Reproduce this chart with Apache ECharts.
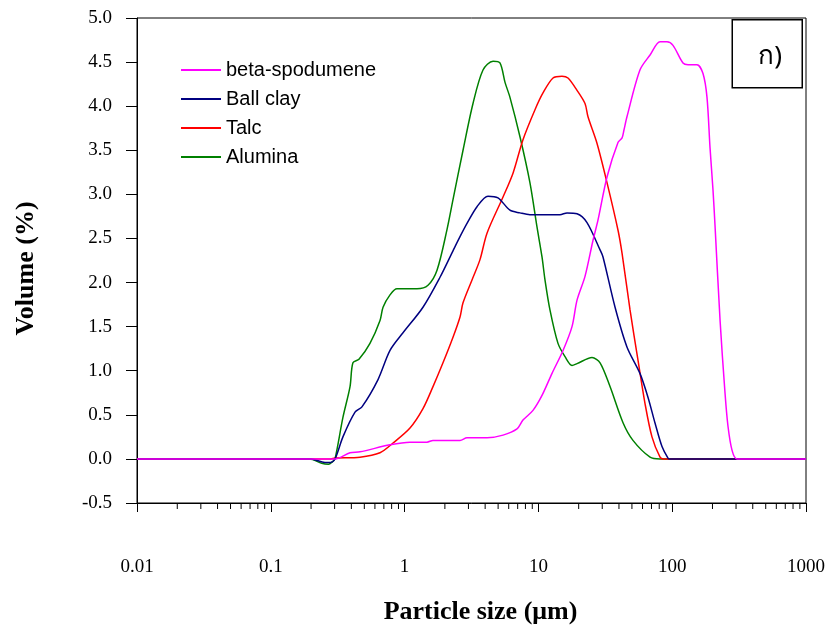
<!DOCTYPE html>
<html>
<head>
<meta charset="utf-8">
<script src="https://cdn.jsdelivr.net/npm/echarts@6/dist/echarts.min.js"></script>
<style>html,body{margin:0;padding:0;background:#fff}#chart{width:832px;height:627px}</style>
</head>
<body>
<div id="chart"></div>
<script>
// Particle sizes (µm) and volume (%)
const spodumeneX = [0.01, 0.28, 0.302, 0.391, 0.464, 0.778, 1.097, 1.47, 1.63, 2.595, 2.927, 4.13, 5.44, 6.92, 7.67, 9.11, 10.64, 12.64, 15.28, 17.83, 19.44, 22.3, 25.6, 27.9, 32.6, 39.4, 42.2, 43.6, 45.9, 57.4, 68.3, 81.1, 91.4, 101.4, 120.4, 131.3, 153.2, 169.9, 182, 191.7, 201.8, 208.9, 227.7, 248.1, 261.2, 279.9, 305, 1000];
const spodumeneY = [0, 0, 0, 0.07, 0.08, 0.16, 0.19, 0.19, 0.21, 0.21, 0.24, 0.24, 0.27, 0.34, 0.44, 0.55, 0.72, 0.97, 1.23, 1.50, 1.80, 2.07, 2.48, 2.71, 3.20, 3.59, 3.64, 3.73, 3.88, 4.41, 4.58, 4.73, 4.73, 4.69, 4.49, 4.47, 4.47, 4.37, 4.10, 3.53, 3.05, 2.65, 1.58, 0.75, 0.37, 0.10, 0, 0];

const ballClayX = [0.01, 0.2, 0.254, 0.28, 0.302, 0.346, 0.426, 0.48, 0.633, 0.778, 0.973, 1.372, 1.839, 2.3, 2.595, 2.927, 3.476, 4.2, 4.99, 6.13, 7.29, 8.65, 14.5, 16.36, 19.44, 23.08, 28.9, 30.4, 37.4, 45.9, 57.4, 65.9, 74.3, 83.9, 93.0, 96, 1000];
const ballClayY = [0, 0, -0.04, -0.04, 0, 0.25, 0.53, 0.59, 0.90, 1.23, 1.43, 1.72, 2.06, 2.36, 2.52, 2.67, 2.86, 2.98, 2.96, 2.82, 2.79, 2.77, 2.77, 2.79, 2.78, 2.68, 2.37, 2.29, 1.72, 1.27, 0.97, 0.70, 0.41, 0.14, 0.01, 0, 0];

const talcX = [0.01, 0.28, 0.302, 0.464, 0.655, 0.819, 1.097, 1.372, 1.63, 1.936, 2.3, 2.595, 2.733, 3.19, 3.66, 4.13, 5.44, 6.46, 7.67, 9.43, 10.82, 12.86, 15.01, 16.64, 19.44, 22.3, 23.48, 27.4, 32.6, 39.4, 42.2, 48.4, 55.5, 62.6, 70.6, 81.1, 86, 1000];
const talcY = [0, 0, 0.01, 0.02, 0.07, 0.18, 0.35, 0.57, 0.82, 1.09, 1.38, 1.61, 1.77, 2.03, 2.26, 2.56, 2.97, 3.24, 3.62, 3.96, 4.15, 4.32, 4.34, 4.32, 4.18, 4.03, 3.88, 3.58, 3.13, 2.59, 2.33, 1.69, 1.12, 0.63, 0.25, 0.02, 0, 0];

const aluminaX = [0.01, 0.195, 0.24, 0.27, 0.29, 0.302, 0.346, 0.391, 0.411, 0.456, 0.551, 0.655, 0.69, 0.778, 0.877, 1.238, 1.496, 1.747, 2.074, 2.3, 2.733, 3.245, 3.854, 4.58, 5.16, 5.63, 6.13, 7.29, 8.65, 9.76, 10.64, 11.2, 12.2, 14.01, 15.81, 17.83, 19.44, 25.16, 28.9, 34.3, 42.9, 50.9, 68.3, 81.1, 1000];
const aluminaY = [0, 0, -0.05, -0.06, -0.03, 0, 0.47, 0.82, 1.09, 1.13, 1.31, 1.57, 1.72, 1.86, 1.93, 1.93, 1.97, 2.14, 2.60, 2.94, 3.50, 4.03, 4.41, 4.51, 4.49, 4.27, 4.10, 3.65, 3.13, 2.63, 2.29, 2.03, 1.69, 1.31, 1.16, 1.06, 1.08, 1.15, 1.09, 0.82, 0.41, 0.21, 0.02, 0, 0];

const seriesNames = ['beta-spodumene', 'Ball clay', 'Talc', 'Alumina'];
const xTickLabels = ['0.01', '0.1', '1', '10', '100', '1000'];
// minor tick positions of the log axis (2..9 per decade)
const minorTicks = [];
[0.01, 0.1, 1, 10, 100].forEach(d => { for (let k = 2; k <= 9; k++) minorTicks.push(+(d * k).toPrecision(3)); });

function pairs(xs, ys) { return xs.map((x, i) => [x, ys[i]]); }

const colors = ['#FF00FF', '#000080', '#FF0000', '#008000'];
const allData = [pairs(spodumeneX, spodumeneY), pairs(ballClayX, ballClayY), pairs(talcX, talcY), pairs(aluminaX, aluminaY)];

const serif = "'Liberation Serif', 'Times New Roman', serif";
const chart = echarts.init(document.getElementById('chart'));
const lineSeries = seriesNames.map((n, i) => ({
  name: n, type: 'line', data: allData[i], showSymbol: false, symbol: 'none',
  smooth: 0.3, lineStyle: { color: colors[i], width: 1.5 }, itemStyle: { color: colors[i] },
  z: 10 - i
}));

chart.setOption({
  animation: false,
  backgroundColor: '#fff',
  grid: { left: 137, right: 26, top: 18, bottom: 124, outerBoundsMode: 'none', containLabel: false, show: true, borderColor: '#000', borderWidth: 1, backgroundColor: 'transparent' },
  legend: {
    orient: 'vertical', left: 176, top: 55, itemWidth: 40, itemHeight: 2, itemGap: 9, icon: 'rect',
    data: seriesNames,
    textStyle: { fontFamily: "'Liberation Sans', Arial, sans-serif", fontSize: 20, color: '#000' }
  },
  xAxis: {
    type: 'log', logBase: 10, min: 0.01, max: 1000,
    name: 'Particle size (μm)', nameLocation: 'middle', nameGap: 96,
    nameTextStyle: { fontFamily: serif, fontSize: 26, fontWeight: 'bold', color: '#000', padding: [0, 0, 0, 18] },
    axisLine: { onZero: false, lineStyle: { color: '#000', width: 1 } },
    axisTick: { show: true, length: 9, lineStyle: { color: '#000' } },
    axisLabel: { margin: 55, fontFamily: serif, fontSize: 19, color: '#000',
      formatter: v => { const i = Math.round(Math.log10(v)) + 2; return xTickLabels[i] !== undefined ? xTickLabels[i] : ''; } },
    splitLine: { show: false }
  },
  yAxis: {
    type: 'value', min: -0.5, max: 5.0, interval: 0.5,
    name: 'Volume (%)', nameLocation: 'middle', nameGap: 98, nameRotate: 90,
    nameTextStyle: { fontFamily: serif, fontSize: 26, fontWeight: 'bold', color: '#000', padding: [0, 16, 0, 0] },
    axisLine: { show: true, lineStyle: { color: '#000', width: 1 } },
    axisTick: { show: true, length: 11, lineStyle: { color: '#000' } },
    axisLabel: { margin: 25, fontFamily: serif, fontSize: 19, color: '#000', formatter: v => v.toFixed(1) },
    splitLine: { show: false }
  },
  graphic: [{
    type: 'group', right: 29, top: 19,
    children: [
      { type: 'rect', shape: { x: 0, y: 0, width: 70, height: 68 }, style: { fill: '#fff', stroke: '#000', lineWidth: 1.5 } },
      { type: 'text', x: 38, y: 37, style: { text: 'ก)', fontSize: 26, fontFamily: "'Noto Sans', 'DejaVu Sans', sans-serif", fill: '#000', align: 'center', verticalAlign: 'middle' } }
    ]
  }],
  series: lineSeries.concat([{
    type: 'custom', name: 'minorTicks', silent: true, clip: false,
    data: minorTicks.map(v => [v]),
    encode: { x: 0 },
    renderItem: (params, api) => {
      const p = api.coord([api.value(0), -0.5]);
      return { type: 'line', shape: { x1: p[0], y1: p[1], x2: p[0], y2: p[1] + 6 }, style: { stroke: '#000', lineWidth: 1 } };
    }
  }])
});
</script>
</body>
</html>
